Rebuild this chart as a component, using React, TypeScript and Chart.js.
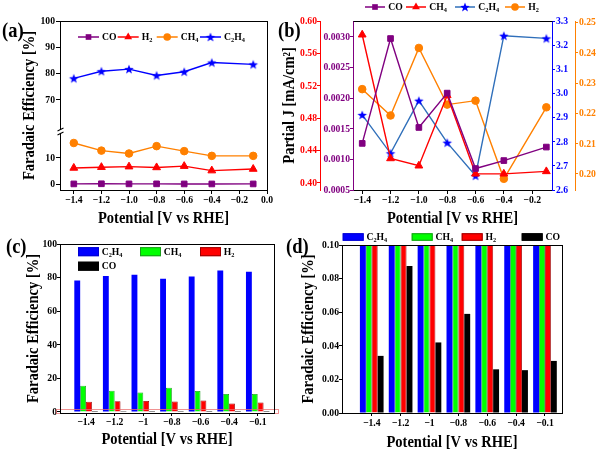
import React, { useEffect, useRef } from "react";
import { Chart, registerables } from "chart.js";

Chart.register(...registerables);

// ---------------- data ----------------
const POTENTIALS = [-1.4, -1.2, -1.0, -0.8, -0.6, -0.4, -0.1];
const CATEGORY_LABELS = ["\u22121.4", "\u22121.2", "\u22121", "\u22120.8", "\u22120.6", "\u22120.4", "\u22120.1"];

// Faradaic efficiencies [%]
const FE_C2H4 = [78.2, 80.9, 81.7, 79.3, 80.7, 84.2, 83.5];
const FE_CH4 = [15.6, 12.7, 11.6, 14.4, 12.5, 10.7, 10.7];
const FE_H2 = [6.1, 6.4, 6.6, 6.3, 6.8, 5.1, 5.7];
const FE_CO = [0.034, 0.0875, 0.042, 0.059, 0.026, 0.0255, 0.031];

// Partial current densities [mA/cm2]
const J_CO = [0.00126, 0.00297, 0.00152, 0.00208, 0.00085, 0.00098, 0.0012];
const J_CH4 = [0.583, 0.43, 0.421, 0.508, 0.411, 0.411, 0.414];
const J_C2H4 = [2.911, 2.752, 2.97, 2.796, 2.659, 3.239, 3.228];
const J_H2 = [0.228, 0.2193, 0.2416, 0.2229, 0.2242, 0.1984, 0.222];

// tick values
const A_X_TICKS = [-1.4, -1.2, -1.0, -0.8, -0.6, -0.4, -0.2, 0.0];
const A_Y_TICKS = [0, 10, 70, 80, 90, 100];
const B_X_TICKS = [-1.4, -1.2, -1.0, -0.8, -0.6, -0.4, -0.2];
const B_CO_TICKS = [0.0005, 0.001, 0.0015, 0.002, 0.0025, 0.003];
const B_CH4_TICKS = [0.4, 0.44, 0.48, 0.52, 0.56, 0.6];
const B_C2H4_TICKS = [2.6, 2.7, 2.8, 2.9, 3.0, 3.1, 3.2, 3.3];
const B_H2_TICKS = [0.2, 0.21, 0.22, 0.23, 0.24, 0.25];
const C_Y_TICKS = [0, 20, 40, 60, 80, 100];
const D_Y_TICKS = [0, 0.02, 0.04, 0.06, 0.08, 0.1];
const CAT_TICKS = [0, 1, 2, 3, 4, 5, 6];

// axis break of panel (a)
const BREAK_AT = 40; // values above are shifted down
const BREAK_SHIFT = 38;
const BREAK_MARK = 20; // where the break symbol sits (display units)
const HIGHLIGHT_RANGE = [-0.6, 1.8]; // zoomed region marked in panel (c)

// ---------------- style ----------------
const W = 600;
const H = 451;
const SERIF = '"Liberation Serif", "Times New Roman", Times, serif';
const TEXT_SX = 0.88;

const PURPLE = "#800080";
const RED = "#ff0000";
const ORANGE = "#ff8000";
const BLUE = "#0000ff";
const STEEL = "#2f6fba";
const GREEN = "#00ff00";
const BLACK = "#000000";

const tickFont = { family: SERIF, size: 11, weight: "bold", lineHeight: 1 };
const titleFont = { family: SERIF, size: 16.5, weight: "bold", lineHeight: 1 };

const breakY = (v: number) => (v >= BREAK_AT ? v - BREAK_SHIFT : v);
const unbreakY = (d: number) => (d > BREAK_MARK + 1 ? d + BREAK_SHIFT : d);
const minusFmt = (v: number, digits: number) =>
  (v < -1e-9 ? "\u2212" : "") + Math.abs(v).toFixed(digits);

function condense(ctx: any) {
  if (ctx.__condensed) return;
  const orig = ctx.fillText.bind(ctx);
  ctx.fillText = (t: string, x: number, y: number, mw?: number) => {
    ctx.save();
    ctx.translate(x, y);
    ctx.scale(TEXT_SX, 1);
    if (mw === undefined || mw === null) orig(t, 0, 0);
    else orig(t, 0, 0, mw / TEXT_SX);
    ctx.restore();
  };
  ctx.__condensed = true;
}

function makeStar(color: string, outer: number, inner: number) {
  const size = Math.ceil(outer * 2 + 2);
  const c = document.createElement("canvas");
  c.width = size;
  c.height = size;
  const g = c.getContext("2d")!;
  g.translate(size / 2, size / 2 + outer * 0.1);
  g.beginPath();
  for (let i = 0; i < 10; i++) {
    const r = i % 2 ? inner : outer;
    const a = -Math.PI / 2 + (i * Math.PI) / 5;
    g.lineTo(r * Math.cos(a), r * Math.sin(a));
  }
  g.closePath();
  g.fillStyle = color;
  g.fill();
  return c;
}

const fixW = (w: number) => (s: any) => {
  s.width = w;
  s.paddingLeft = s.paddingRight = s.paddingTop = s.paddingBottom = 0;
};
const fixH = (h: number) => (s: any) => {
  s.height = h;
  s.paddingLeft = s.paddingRight = s.paddingTop = s.paddingBottom = 0;
};
const setTicks = (vals: number[]) => (s: any) => {
  s.ticks = vals.map((v) => ({ value: v }));
};

function axis(o: any) {
  const vertical = o.position === "left" || o.position === "right";
  return {
    type: "linear",
    position: o.position,
    min: o.min,
    max: o.max,
    bounds: "data",
    weight: o.weight ?? 0,
    offset: false,
    afterBuildTicks: setTicks(o.ticks),
    afterFit: vertical ? fixW(o.size) : fixH(o.size),
    ticks: {
      callback: o.fmt,
      font: tickFont,
      color: o.color,
      padding: o.pad ?? 0,
      autoSkip: false,
      maxRotation: 0,
      minRotation: 0,
    },
    grid: {
      drawOnChartArea: false,
      drawTicks: true,
      tickLength: o.tl ?? 4,
      color: o.color,
      offset: false,
      lineWidth: 1,
    },
    border: { display: true, color: o.color, width: 1 },
    title: o.title
      ? { display: true, text: o.title, font: titleFont, color: "#000", padding: o.titlePad }
      : { display: false },
  };
}

const ap = (p: number) => Math.round(p - 0.5) + 0.5;

function drawFrame(ctx: any, chart: any) {
  const { left, top, right, bottom } = chart.chartArea;
  ctx.strokeStyle = "#000";
  ctx.lineWidth = 1;
  ctx.strokeRect(ap(left), ap(top), ap(right) - ap(left), ap(bottom) - ap(top));
}

function drawChem(ctx: any, text: string, x: number, y: number, size: number, color: string) {
  ctx.fillStyle = color;
  ctx.textAlign = "left";
  ctx.textBaseline = "middle";
  let cx = x;
  for (const ch of text) {
    const sub = /[0-9]/.test(ch);
    const fs = sub ? size * 0.65 : size;
    ctx.font = `bold ${fs}px ${SERIF}`;
    ctx.fillText(ch, cx, sub ? y + size * 0.28 : y);
    cx += ctx.measureText(ch).width * TEXT_SX;
  }
}

function drawMarker(ctx: any, style: string, x: number, y: number, r: number, color: string, star: any) {
  if (style === "star") {
    ctx.drawImage(star, x - star.width / 2, y - star.height / 2);
    return;
  }
  ctx.fillStyle = color;
  ctx.beginPath();
  if (style === "rect") {
    const s = r * Math.SQRT1_2;
    ctx.rect(x - s, y - s, 2 * s, 2 * s);
  } else if (style === "triangle") {
    for (let k = 0; k < 3; k++) {
      const a = -Math.PI / 2 + (k * 2 * Math.PI) / 3;
      ctx.lineTo(x + r * Math.cos(a), y + r * Math.sin(a));
    }
    ctx.closePath();
  } else {
    ctx.arc(x, y, r, 0, Math.PI * 2);
  }
  ctx.fill();
}

function drawPanelLabel(ctx: any, text: string, x: number, y: number) {
  ctx.fillStyle = "#000";
  ctx.font = `bold 21px ${SERIF}`;
  ctx.textAlign = "left";
  ctx.textBaseline = "middle";
  ctx.fillText(text, x, y);
}

function drawLineLegend(ctx: any, items: any[], xs: number[], y: number, len: number, textOff: number, star: any) {
  items.forEach((it, i) => {
    const x = xs[i];
    ctx.strokeStyle = it.line;
    ctx.lineWidth = 1.5;
    ctx.beginPath();
    ctx.moveTo(x, y);
    ctx.lineTo(x + len, y);
    ctx.stroke();
    drawMarker(ctx, it.style, x + len / 2, y, it.r, it.color, star);
    drawChem(ctx, it.label, x + textOff, y, 11, "#000");
  });
}

function drawBoxLegend(ctx: any, items: any[], pos: number[][], bw: number, bh: number) {
  items.forEach((it, i) => {
    const [x, y] = pos[i];
    ctx.fillStyle = it.fill;
    ctx.fillRect(x, y - bh / 2, bw, bh);
    ctx.strokeStyle = it.border;
    ctx.lineWidth = 1;
    ctx.strokeRect(x + 0.5, y - bh / 2 + 0.5, bw - 1, bh - 1);
    drawChem(ctx, it.label, x + bw + 2.7, y, 11, "#000");
  });
}

const deco = (id: string, fn: (ctx: any, chart: any) => void) => ({
  id,
  afterDraw(chart: any) {
    const ctx = chart.ctx;
    ctx.save();
    fn(ctx, chart);
    ctx.restore();
  },
});

const lineSet = (label: string, xs: number[], ys: number[], color: string, line: string, style: any, r: number, yAxisID: string) => ({
  label,
  data: xs.map((x, i) => ({ x, y: ys[i] })),
  borderColor: line,
  backgroundColor: color,
  pointBackgroundColor: color,
  pointBorderColor: color,
  pointStyle: style,
  pointRadius: r,
  pointHoverRadius: r,
  pointBorderWidth: 1,
  borderWidth: 1.4,
  tension: 0,
  yAxisID,
});

const barSet = (label: string, vals: number[], fill: string, border: string, bw: number) => ({
  type: "bar",
  label,
  data: vals.map((y, i) => ({ x: i, y })),
  backgroundColor: fill,
  borderColor: border,
  borderWidth: bw,
  categoryPercentage: 0.82,
  barPercentage: 1,
});

const baseOptions = (padding: any) => ({
  responsive: false,
  animation: false,
  events: [],
  layout: { padding, autoPadding: false },
  plugins: { legend: { display: false }, tooltip: { enabled: false } },
});

// ---------------- panels ----------------
function configA(star: any) {
  const legendItems = [
    { label: "CO", style: "rect", r: 4, color: PURPLE, line: PURPLE },
    { label: "H2", style: "triangle", r: 4.5, color: RED, line: RED },
    { label: "CH4", style: "circle", r: 3.8, color: ORANGE, line: ORANGE },
    { label: "C2H4", style: "star", r: 5, color: BLUE, line: BLUE },
  ];
  return {
    type: "line",
    data: {
      datasets: [
        lineSet("CO", POTENTIALS, FE_CO.map(breakY), PURPLE, PURPLE, "rect", 4, "y"),
        lineSet("H2", POTENTIALS, FE_H2.map(breakY), RED, RED, "triangle", 4.5, "y"),
        lineSet("CH4", POTENTIALS, FE_CH4.map(breakY), ORANGE, ORANGE, "circle", 3.8, "y"),
        lineSet("C2H4", POTENTIALS, FE_C2H4.map(breakY), BLUE, BLUE, star, 5, "y"),
      ],
    },
    options: {
      ...baseOptions({ left: 0, top: 21, right: 333, bottom: 221 }),
      scales: {
        x: axis({
          position: "bottom", min: -1.5, max: 0, ticks: A_X_TICKS, size: 40, color: BLACK,
          fmt: (v: number) => minusFmt(v, 1), pad: 0.5, tl: 4,
          title: "Potential [V vs RHE]", titlePad: { top: 0, bottom: 3.45 },
        }),
        y: axis({
          position: "left", min: -2.28, max: 62, ticks: A_Y_TICKS.map(breakY), size: 60, color: BLACK,
          fmt: (v: number) => String(Math.round(unbreakY(v))), pad: 1, tl: 4,
          title: "Faradaic Efficiency [%]", titlePad: { top: 21.75, bottom: 0 },
        }),
      },
    },
    plugins: [
      deco("decoA", (ctx, chart) => {
        drawFrame(ctx, chart);
        const x = ap(chart.chartArea.left);
        const y = chart.scales.y.getPixelForValue(BREAK_MARK);
        ctx.fillStyle = "#fff";
        ctx.fillRect(x - 1.5, y - 1.5, 3, 3);
        ctx.strokeStyle = "#000";
        ctx.lineWidth = 1.1;
        ctx.beginPath();
        ctx.moveTo(x - 3, y - 0.5);
        ctx.lineTo(x + 3, y - 3.5);
        ctx.moveTo(x - 3, y + 3.5);
        ctx.lineTo(x + 3, y + 0.5);
        ctx.stroke();
        drawLineLegend(ctx, legendItems, [78, 117.7, 156.7, 200], 37, 21, 24, star);
        drawPanelLabel(ctx, "(a)", 2, 32);
      }),
    ],
  };
}

function configB(star: any) {
  const legendItems = [
    { label: "CO", style: "rect", r: 4, color: PURPLE, line: PURPLE },
    { label: "CH4", style: "triangle", r: 4.5, color: RED, line: RED },
    { label: "C2H4", style: "star", r: 5, color: BLUE, line: STEEL },
    { label: "H2", style: "circle", r: 3.8, color: ORANGE, line: ORANGE },
  ];
  return {
    type: "line",
    data: {
      datasets: [
        lineSet("CO", POTENTIALS, J_CO, PURPLE, PURPLE, "rect", 4, "yCO"),
        lineSet("CH4", POTENTIALS, J_CH4, RED, RED, "triangle", 4.5, "yCH4"),
        lineSet("C2H4", POTENTIALS, J_C2H4, BLUE, STEEL, star, 5, "yC2H4"),
        lineSet("H2", POTENTIALS, J_H2, ORANGE, ORANGE, "circle", 3.8, "yH2"),
      ],
    },
    options: {
      ...baseOptions({ left: 278, top: 21, right: 0, bottom: 221 }),
      scales: {
        x: axis({
          position: "bottom", min: -1.465, max: -0.06, ticks: B_X_TICKS, size: 40, color: BLACK,
          fmt: (v: number) => minusFmt(v, 1), pad: 0.5, tl: 4,
          title: "Potential [V vs RHE]", titlePad: { top: 0, bottom: 3.45 },
        }),
        yCO: axis({
          position: "left", weight: 0, min: 0.0005, max: 0.003256, ticks: B_CO_TICKS, size: 33, color: PURPLE,
          fmt: (v: number) => v.toFixed(4), pad: 0, tl: 3,
        }),
        yCH4: axis({
          position: "left", weight: 10, min: 0.391, max: 0.6, ticks: B_CH4_TICKS, size: 42, color: RED,
          fmt: (v: number) => v.toFixed(2), pad: 0, tl: 3,
          title: "Partial J [mA/cm\u00B2]", titlePad: { top: 3.75, bottom: 0 },
        }),
        yC2H4: axis({
          position: "right", weight: 0, min: 2.6, max: 3.3, ticks: B_C2H4_TICKS, size: 23, color: BLUE,
          fmt: (v: number) => v.toFixed(1), pad: 1, tl: 3,
        }),
        yH2: axis({
          position: "right", weight: 10, min: 0.1947, max: 0.2505, ticks: B_H2_TICKS, size: 25, color: ORANGE,
          fmt: (v: number) => v.toFixed(2), pad: 1, tl: 3,
        }),
      },
    },
    plugins: [
      deco("decoB", (ctx, chart) => {
        const { left, right, top } = chart.chartArea;
        ctx.strokeStyle = "#000";
        ctx.lineWidth = 1;
        ctx.beginPath();
        ctx.moveTo(ap(left), ap(top));
        ctx.lineTo(ap(right), ap(top));
        ctx.stroke();
        drawLineLegend(ctx, legendItems, [365, 406, 455, 505], 7, 20, 23.3, star);
        drawPanelLabel(ctx, "(b)", 278, 31.7);
      }),
    ],
  };
}

const BAR_SERIES = [
  { label: "C2H4", fill: BLUE, border: "#0000d0", bw: 0 },
  { label: "CH4", fill: GREEN, border: "#1a9a1a", bw: 0.8 },
  { label: "H2", fill: RED, border: "#990000", bw: 0.8 },
  { label: "CO", fill: BLACK, border: BLACK, bw: 0 },
];
const BAR_VALUES = [FE_C2H4, FE_CH4, FE_H2, FE_CO];

function barConfig(o: any) {
  return {
    type: "bar",
    data: {
      datasets: BAR_SERIES.map((s, i) => barSet(s.label, BAR_VALUES[i], s.fill, s.border, s.bw)),
    },
    options: {
      ...baseOptions(o.padding),
      scales: {
        x: axis({
          position: "bottom", min: o.xmin, max: o.xmax, ticks: CAT_TICKS, size: 38, color: BLACK,
          fmt: (v: number) => CATEGORY_LABELS[Math.round(v)], pad: o.xpad, tl: 3,
          title: "Potential [V vs RHE]", titlePad: { top: 0, bottom: o.xTitlePad },
        }),
        y: axis({
          position: "left", min: o.ymin, max: o.ymax, ticks: o.yticks, size: o.ysize, color: BLACK,
          fmt: o.yfmt, pad: 0, tl: 3,
          title: "Faradaic Efficiency [%]", titlePad: { top: o.yTitlePad, bottom: 0 },
        }),
      },
    },
    plugins: [deco(o.id, o.draw)],
  };
}

function configC() {
  return barConfig({
    id: "decoC",
    padding: { left: 0, top: 244, right: 326, bottom: 0 },
    xmin: -0.91, xmax: 6.57, xpad: 0.8, xTitlePad: 2.75,
    ymin: -0.6, ymax: 100, yticks: C_Y_TICKS, ysize: 60, yTitlePad: 25,
    yfmt: (v: number) => String(Math.round(v)),
    draw: (ctx: any, chart: any) => {
      const { left, right } = chart.chartArea;
      const ys = chart.scales.y;
      const y1 = ys.getPixelForValue(HIGHLIGHT_RANGE[1]);
      const y0 = ys.getPixelForValue(HIGHLIGHT_RANGE[0]);
      ctx.strokeStyle = "rgba(235,110,110,0.75)";
      ctx.lineWidth = 1;
      ctx.strokeRect(left - 3.5, Math.round(y1) + 0.5, right - left + 8, Math.round(y0 - y1));
      drawFrame(ctx, chart);
      drawBoxLegend(
        ctx,
        BAR_SERIES,
        [[78, 251.7], [140, 251.7], [200, 251.7], [78, 266.2]],
        21,
        9
      );
      drawPanelLabel(ctx, "(c)", 6, 248);
    },
  });
}

function configD() {
  return barConfig({
    id: "decoD",
    padding: { left: 295, top: 245, right: 38, bottom: 0 },
    xmin: -1.03, xmax: 6.59, xpad: 2.1, xTitlePad: 0,
    ymin: 0, ymax: 0.1, yticks: D_Y_TICKS, ysize: 47, yTitlePad: 5.75,
    yfmt: (v: number) => v.toFixed(2),
    draw: (ctx: any, chart: any) => {
      drawFrame(ctx, chart);
      drawBoxLegend(
        ctx,
        BAR_SERIES,
        [[342.7, 237], [411.7, 237], [461.7, 237], [521.7, 237]],
        21,
        7.5
      );
      drawPanelLabel(ctx, "(d)", 286, 248);
    },
  });
}

export default function App() {
  const refA = useRef<HTMLCanvasElement>(null);
  const refB = useRef<HTMLCanvasElement>(null);
  const refC = useRef<HTMLCanvasElement>(null);
  const refD = useRef<HTMLCanvasElement>(null);

  useEffect(() => {
    Chart.defaults.font.family = SERIF;
    const star = makeStar(BLUE, 5, 2.1);
    const prep = (c: HTMLCanvasElement | null) => {
      condense(c!.getContext("2d"));
      return c!;
    };
    const charts = [
      new Chart(prep(refA.current), configA(star) as any),
      new Chart(prep(refB.current), configB(star) as any),
      new Chart(prep(refC.current), configC() as any),
      new Chart(prep(refD.current), configD() as any),
    ];
    return () => charts.forEach((c) => c.destroy());
  }, []);

  const cs: React.CSSProperties = { position: "absolute", left: 0, top: 0, width: W, height: H };
  return (
    <div style={{ position: "absolute", left: 0, top: 0, width: W, height: H, background: "#fff", overflow: "hidden" }}>
      <canvas ref={refA} width={W} height={H} style={cs} />
      <canvas ref={refB} width={W} height={H} style={cs} />
      <canvas ref={refC} width={W} height={H} style={cs} />
      <canvas ref={refD} width={W} height={H} style={cs} />
    </div>
  );
}
